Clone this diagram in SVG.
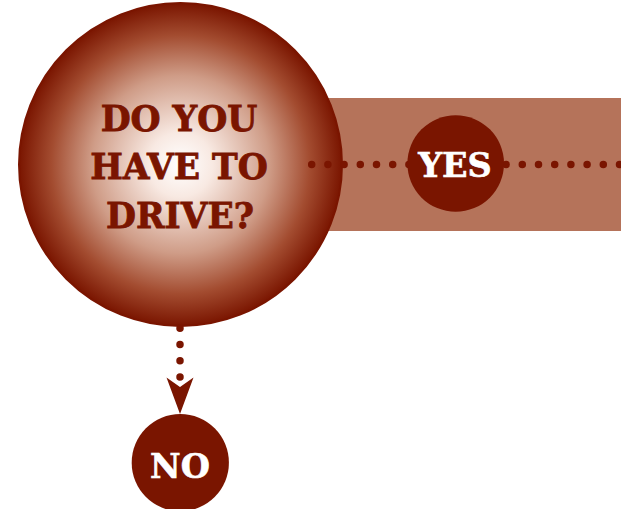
<svg xmlns="http://www.w3.org/2000/svg" width="621" height="509" viewBox="0 0 621 509">
<style>
.lbl{font-family:"DejaVu Serif","Liberation Serif",serif;font-weight:bold;text-anchor:middle}
.q{fill:#7a1500;stroke:#7a1500;stroke-width:0.8;font-size:34.5px}
.a{fill:#ffffff;stroke:#ffffff;stroke-width:0.6;font-size:33.5px}
.dot{fill:none;stroke:#7a1500;stroke-width:7.5;stroke-linecap:round;stroke-dasharray:0 16.2}
.ans{fill:#7a1500}
</style>
<defs>
<radialGradient id="g" cx="0.5" cy="0.5" r="0.5">
<stop offset="0" stop-color="#ffffff"/>
<stop offset="0.2" stop-color="#f8e9e2"/>
<stop offset="0.55" stop-color="#cf9c87"/>
<stop offset="0.8" stop-color="#a34c30"/>
<stop offset="1" stop-color="#7a1500"/>
</radialGradient>
</defs>
<rect id="band" x="250" y="98" width="371" height="133" fill="#b5735a"/>
<g id="question">
<circle cx="180.5" cy="164.5" r="161.5" fill="url(#g)" stroke="#7a1500" stroke-width="2"/>
<text class="lbl q" x="179" y="131">DO YOU</text>
<text class="lbl q" x="179" y="178.5">HAVE TO</text>
<text class="lbl q" x="180" y="227.5">DRIVE?</text>
</g>
<g id="connectors">
<path class="dot" d="M311.7 164.5 H625"/>
<path class="dot" d="M180 328.3 V378"/>
<path d="M166.5 377.5 L180 387 L193.5 377.5 L180 414 Z" fill="#7a1500"/>
</g>
<g id="yes">
<circle class="ans" cx="455.7" cy="163.5" r="48.3"/>
<text class="lbl a" x="455" y="177.3">YES</text>
</g>
<g id="no">
<circle class="ans" cx="180.3" cy="462.7" r="48.6"/>
<text class="lbl a" x="180" y="477.7">NO</text>
</g>
</svg>
